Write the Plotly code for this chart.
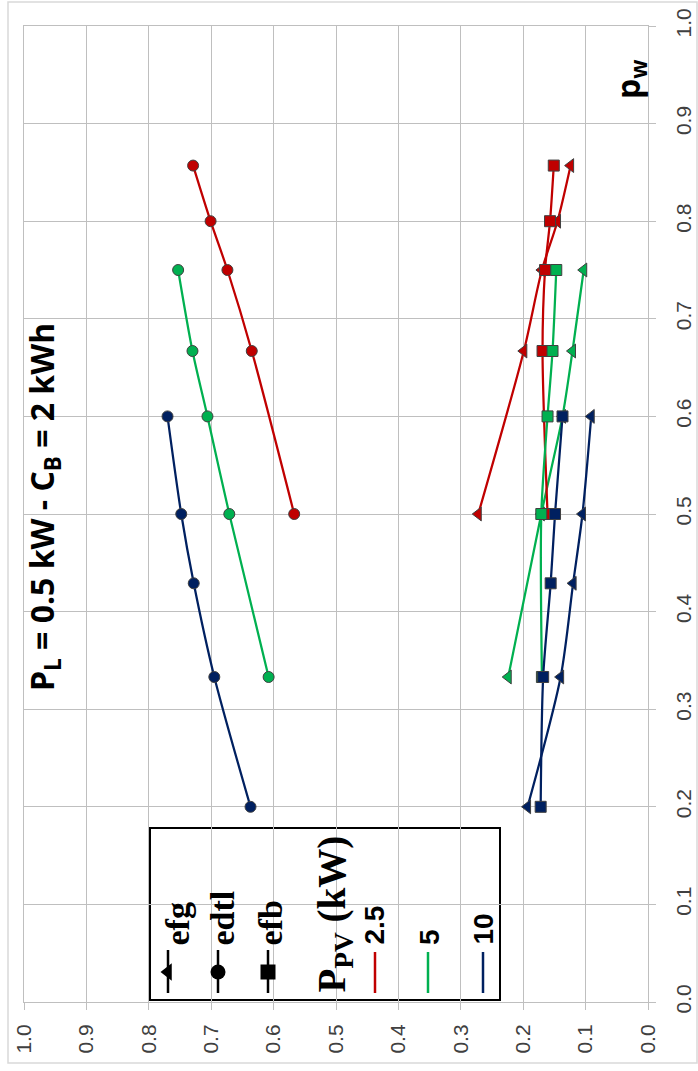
import plotly.graph_objects as go

# ---------------- data ----------------
pw_25 = [0.5, 0.667, 0.75, 0.8, 0.857]
pw_5 = [0.333, 0.5, 0.6, 0.667, 0.75]
pw_10 = [0.2, 0.333, 0.429, 0.5, 0.6]

efg_25 = [0.272, 0.199, 0.170, 0.145, 0.124]
efg_5 = [0.224, 0.171, 0.137, 0.121, 0.103]
efg_10 = [0.193, 0.140, 0.120, 0.105, 0.091]

edtl_25 = [0.567, 0.635, 0.674, 0.701, 0.729]
edtl_5 = [0.608, 0.671, 0.706, 0.730, 0.753]
edtl_10 = [0.637, 0.695, 0.728, 0.748, 0.770]

efb_25 = [0.161, 0.169, 0.165, 0.157, 0.151]
efb_5 = [0.170, 0.171, 0.161, 0.153, 0.147]
efb_10 = [0.172, 0.168, 0.156, 0.149, 0.137]

series_names = ["2.5", "5", "10"]
tick_vals = [0.0, 0.1, 0.2, 0.3, 0.4, 0.5, 0.6, 0.7, 0.8, 0.9, 1.0]
tick_text = ["0.0", "0.1", "0.2", "0.3", "0.4", "0.5", "0.6", "0.7", "0.8", "0.9", "1.0"]

# ---------------- style ----------------
RED, GREEN, NAVY = "#C00000", "#00B050", "#002060"
GRID = "#BFBFBF"
W, H = 698, 1071
L, R, T, B = 24, 648, 26, 1002


def fx(px):
    return (px - L) / (R - L)


def fy(py):
    return (B - py) / (B - T)


def ex(px):  # pixel -> value on reversed horizontal axis
    return 1 - fx(px)


fig = go.Figure()

colors = [RED, GREEN, NAVY]
pws = [pw_25, pw_5, pw_10]
groups = [
    ("efg", [efg_25, efg_5, efg_10], "triangle-left", 12),
    ("edtl", [edtl_25, edtl_5, edtl_10], "circle", 11),
    ("efb", [efb_25, efb_5, efb_10], "square", 11),
]
for gname, vals, sym, msz in groups:
    for name, col, pw, v in zip(series_names, colors, pws, vals):
        fig.add_trace(go.Scatter(
            x=v, y=pw, mode="lines+markers", name=f"{gname} {name}",
            line=dict(color=col, width=2.25, shape="spline", smoothing=0.8),
            marker=dict(symbol=sym, size=msz, color=col,
                        line=dict(color="#404040", width=1)),
            showlegend=False, cliponaxis=False, hoverinfo="skip"))

# ---------------- legend (drawn manually, rotated) ----------------
shapes = []
shapes.append(dict(type="rect", xref="paper", yref="paper",
                   x0=fx(8), x1=fx(697), y0=fy(1063), y1=fy(2),
                   line=dict(color="#D9D9D9", width=1.5), fillcolor="rgba(0,0,0,0)",
                   layer="below"))
shapes.append(dict(type="rect", xref="paper", yref="paper",
                   x0=fx(150), x1=fx(500), y0=fy(1000), y1=fy(828),
                   line=dict(color="black", width=2), fillcolor="white",
                   layer="between"))

leg_sym = [("efg", "triangle-left", 168, 177), ("edtl", "circle", 218, 222),
           ("efb", "square", 268, 270)]
for txt, sym, lx, tx in leg_sym:
    shapes.append(dict(type="line", xref="paper", yref="paper",
                       x0=fx(lx), x1=fx(lx), y0=fy(993), y1=fy(950),
                       line=dict(color="black", width=2.5), layer="above"))
    fig.add_trace(go.Scatter(x=[ex(lx)], y=[fy(972)], mode="markers",
                             marker=dict(symbol=sym, size=15, color="black"),
                             showlegend=False, cliponaxis=False, hoverinfo="skip"))

leg_lines = [(RED, 375, "2.5", 374), (GREEN, 428, "5", 429), (NAVY, 483, "10", 483)]
for col, lx, txt, tx in leg_lines:
    shapes.append(dict(type="line", xref="paper", yref="paper",
                       x0=fx(lx), x1=fx(lx), y0=fy(993), y1=fy(952),
                       line=dict(color=col, width=2.5), layer="above"))

annotations = []
for txt, sym, lx, tx in leg_sym:
    annotations.append(dict(xref="paper", yref="paper", x=fx(tx), y=fy(948),
                            xanchor="center", yanchor="bottom", textangle=-90,
                            text=f"<b>{txt}</b>", showarrow=False,
                            font=dict(family="Liberation Serif", size=34, color="black")))
for col, lx, txt, tx in leg_lines:
    annotations.append(dict(xref="paper", yref="paper", x=fx(tx), y=fy(947),
                            xanchor="center", yanchor="bottom", textangle=-90,
                            text=f"<b>{txt}</b>", showarrow=False,
                            font=dict(family="Liberation Sans", size=28, color="black")))
annotations.append(dict(xref="paper", yref="paper", x=fx(334), y=fy(995),
                        xanchor="center", yanchor="bottom", textangle=-90,
                        text="<b>P<sub>PV</sub> (kW)</b>", showarrow=False,
                        font=dict(family="Liberation Serif", size=39, color="black")))

# title and axis label
annotations.append(dict(xref="paper", yref="paper", x=fx(44), y=fy(507),
                        xanchor="center", yanchor="middle", textangle=-90,
                        text="<b>P<sub>L</sub> = 0.5 kW - C<sub>B</sub> = 2 kWh</b>",
                        showarrow=False,
                        font=dict(family="Open Sans", size=32, color="black")))
annotations.append(dict(xref="paper", yref="paper", x=fx(630), y=fy(80),
                        xanchor="center", yanchor="middle", textangle=-90,
                        text="<b>p<sub>w</sub></b>", showarrow=False,
                        font=dict(family="Open Sans", size=32, color="black")))

axis_common = dict(
    tickvals=tick_vals, ticktext=tick_text, tickangle=-90,
    showgrid=True, gridcolor=GRID, gridwidth=1,
    zeroline=False, showline=True, linecolor=GRID, linewidth=1, mirror=True,
    ticks="outside", ticklen=7, tickcolor=GRID,
    tickfont=dict(family="Liberation Sans", size=21, color="#404040"),
)

fig.update_layout(
    width=W, height=H,
    margin=dict(l=L, r=W - R, t=T, b=H - B, autoexpand=False),
    paper_bgcolor="white", plot_bgcolor="white",
    xaxis=dict(range=[1.0, 0.0], ticklabelstandoff=6, **axis_common),
    yaxis=dict(range=[0.0, 1.0], side="right", ticklabelstandoff=10, **axis_common),
    shapes=shapes, annotations=annotations,
    showlegend=False,
)

fig.write_html("out.html")
